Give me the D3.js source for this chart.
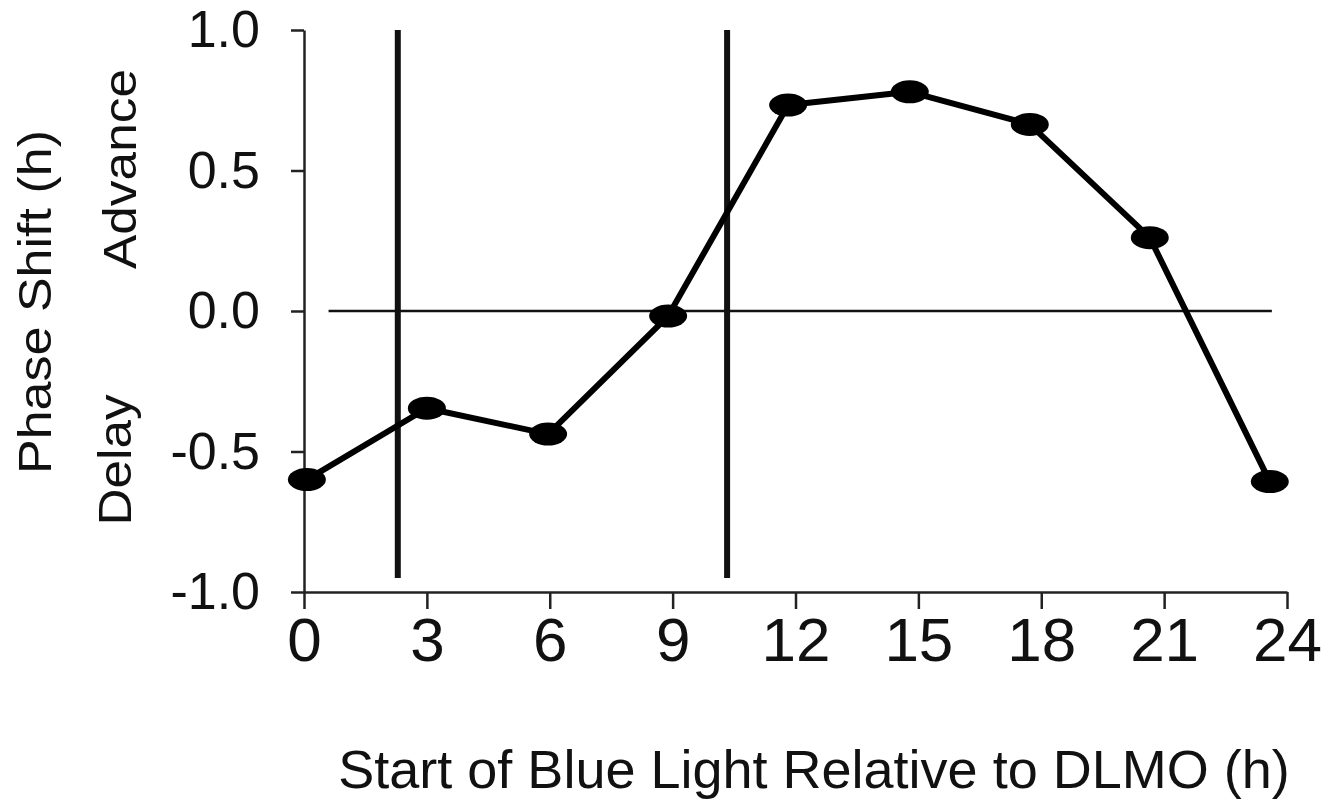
<!DOCTYPE html>
<html>
<head>
<meta charset="utf-8">
<script src="https://cdn.jsdelivr.net/npm/d3@7"></script>
<style>
  html, body { margin: 0; padding: 0; background: #fff; }
  svg { display: block; }
  text { font-family: "Liberation Sans", Arial, sans-serif; fill: #111; }
</style>
</head>
<body>
<svg id="chart" width="1326" height="801"></svg>
<script>
// ---- data ----
const hours  = [0.07, 3.0, 5.96, 8.89, 11.82, 14.79, 17.72, 20.65, 23.58];
const shifts = [-0.60, -0.346, -0.438, -0.018, 0.733, 0.78, 0.664, 0.261, -0.607];
const xTicks = [0, 3, 6, 9, 12, 15, 18, 21, 24];
const xTickLabels = ["0", "3", "6", "9", "12", "15", "18", "21", "24"];
const yTicks = [1.0, 0.5, 0.0, -0.5, -1.0];
const yTickLabels = ["1.0", "0.5", "0.0", "-0.5", "-1.0"];
const markerHours = [2.29, 10.33];   // vertical reference lines
const markerRange = [-0.95, 1.0];
const zeroLineRange = [0.6, 23.63];
const xTitle = "Start of Blue Light Relative to DLMO (h)";
const yTitle = "Phase Shift (h)";
const yAdvance = "Advance";
const yDelay = "Delay";

// ---- scales ----
const x = d3.scaleLinear().domain([0, 24]).range([304, 1287]);
const y = d3.scaleLinear().domain([-1, 1]).range([592, 30]);

const svg = d3.select("#chart");

// axes
const xAxis = d3.axisBottom(x).tickValues(xTicks)
  .tickFormat((d, i) => xTickLabels[i]).tickSize(17).tickPadding(8).tickSizeOuter(0);
const gx = svg.append("g").attr("transform", `translate(0,${y(-1)})`).call(xAxis);
gx.select(".domain").attr("stroke", "#222").attr("stroke-width", 2.5);
gx.selectAll(".tick line").attr("stroke", "#222").attr("stroke-width", 2.5);
gx.selectAll(".tick text").attr("font-size", 62).attr("fill", "#111")
  .attr("font-family", "Liberation Sans, Arial, sans-serif");

const yAxis = d3.axisLeft(y).tickValues(yTicks)
  .tickFormat((d, i) => yTickLabels[i]).tickSize(13).tickPadding(31).tickSizeOuter(0);
const gy = svg.append("g").attr("transform", `translate(${x(0)},0)`).call(yAxis);
gy.select(".domain").attr("stroke", "#222").attr("stroke-width", 2.5);
gy.selectAll(".tick line").attr("stroke", "#222").attr("stroke-width", 2.5);
gy.selectAll(".tick text").attr("font-size", 52).attr("fill", "#111")
  .attr("font-family", "Liberation Sans, Arial, sans-serif");

// zero line
svg.append("line")
  .attr("x1", x(zeroLineRange[0])).attr("x2", x(zeroLineRange[1]))
  .attr("y1", y(0)).attr("y2", y(0))
  .attr("stroke", "#111").attr("stroke-width", 2.5);

// vertical reference lines
svg.selectAll("line.ref").data(markerHours).enter().append("line")
  .attr("class", "ref")
  .attr("x1", d => x(d)).attr("x2", d => x(d))
  .attr("y1", y(markerRange[1])).attr("y2", y(markerRange[0]))
  .attr("stroke", "#111").attr("stroke-width", 6);

// data line
const pts = hours.map((h, i) => [h, shifts[i]]);
svg.append("path").datum(pts)
  .attr("d", d3.line().x(d => x(d[0])).y(d => y(d[1])))
  .attr("fill", "none").attr("stroke", "#000").attr("stroke-width", 6)
  .attr("stroke-linejoin", "round");

// markers
svg.selectAll("ellipse.pt").data(pts).enter().append("ellipse")
  .attr("class", "pt")
  .attr("cx", d => x(d[0])).attr("cy", d => y(d[1]))
  .attr("rx", 19).attr("ry", 11.5).attr("fill", "#000");

// titles
svg.append("text").attr("x", 814).attr("y", 788).attr("text-anchor", "middle")
  .attr("font-size", 54).text(xTitle);

function vtext(str, cx, cy, len) {
  svg.append("text")
    .attr("transform", `translate(${cx},${cy}) rotate(-90)`)
    .attr("text-anchor", "middle").attr("font-size", 46)
    .attr("textLength", len).attr("lengthAdjust", "spacingAndGlyphs")
    .text(str);
}
vtext(yTitle, 51, 302, 344);
vtext(yAdvance, 136, 169, 200);
vtext(yDelay, 131, 460, 131);
</script>
</body>
</html>
